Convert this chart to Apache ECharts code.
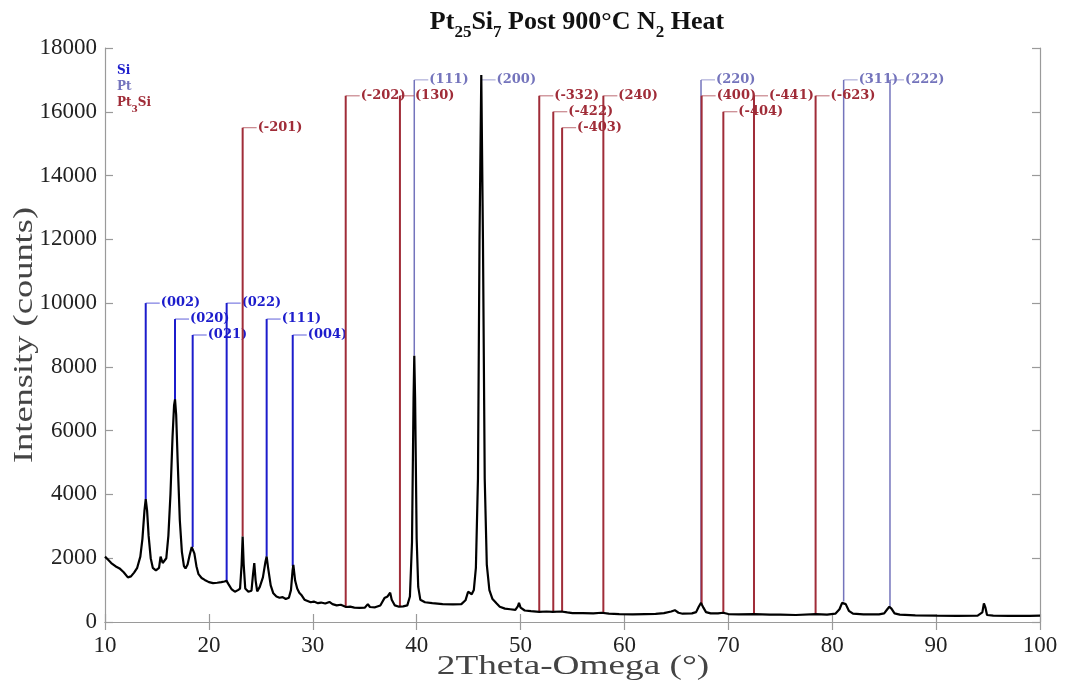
<!DOCTYPE html>
<html>
<head>
<meta charset="utf-8">
<title>Pt25Si7 Post 900°C N2 Heat</title>
<script src="https://cdn.jsdelivr.net/npm/echarts@6/dist/echarts.min.js"></script>
<style>
  html, body { margin: 0; padding: 0; background: #fff; }
  #chart { width: 1065px; height: 689px; }
</style>
</head>
<body>
<div id="chart"></div>
<script>
// XRD scan
const twoTheta = [
  10.0, 10.3, 10.6, 11.0, 11.4, 11.8, 12.2, 12.5, 12.8, 13.1, 13.4, 13.6, 13.8, 13.92, 14.05, 14.2, 14.4, 14.6, 14.9,
  15.2, 15.35, 15.45, 15.55, 15.7, 15.9, 16.1, 16.3, 16.5, 16.65, 16.74, 16.85, 17.0, 17.2, 17.4, 17.6, 17.75, 17.95,
  18.15, 18.35, 18.44, 18.6, 18.8, 19.0, 19.3, 19.6, 20.0, 20.4, 20.8, 21.2, 21.5, 21.7, 21.9, 22.2, 22.5, 22.8, 23.0,
  23.15, 23.25, 23.35, 23.5, 23.8, 24.1, 24.25, 24.37, 24.5, 24.65, 24.9, 25.2, 25.45, 25.56, 25.7, 25.95, 26.2, 26.5,
  26.8, 27.1, 27.4, 27.7, 27.9, 28.05, 28.13, 28.3, 28.5, 28.7, 28.9, 29.2, 29.5, 29.8, 30.1, 30.5, 30.8, 31.2, 31.6,
  31.9, 32.3, 32.7, 33.2, 33.6, 34.0, 34.5, 35.0, 35.3, 35.5, 36.0, 36.5, 36.9, 37.2, 37.45, 37.6, 37.9, 38.3, 38.7,
  39.1, 39.35, 39.55, 39.7, 39.77, 39.85, 40.0, 40.15, 40.35, 40.8, 41.5, 42.5, 43.5, 44.3, 44.7, 44.95, 45.1, 45.3,
  45.5, 45.7, 45.9, 46.05, 46.22, 46.38, 46.55, 46.75, 47.0, 47.3, 47.7, 48.0, 48.5, 49.0, 49.5, 49.75, 49.85, 50.0,
  50.4, 51.0, 51.8, 52.5, 53.1, 53.9, 54.5, 55.0, 56.0, 57.0, 57.8, 58.5, 59.5, 60.8, 62.0, 63.0, 63.8, 64.5, 64.85,
  65.2, 65.6, 66.5, 66.9, 67.15, 67.37, 67.6, 67.85, 68.3, 69.0, 69.5, 70.0, 71.0, 72.5, 74.0, 75.0, 76.5, 78.4, 79.5,
  80.3, 80.7, 80.95, 81.1, 81.3, 81.6, 82.0, 83.0, 84.5, 85.0, 85.3, 85.5, 85.7, 86.0, 86.5, 88.0, 90.0, 92.0, 94.0,
  94.45, 94.6, 94.75, 94.9, 95.5, 97.0, 99.0, 100.0
];
const counts = [
  2050, 1950, 1850, 1750, 1680, 1560, 1400, 1430, 1550, 1700, 2050, 2600, 3500, 3850, 3500, 2700, 2000, 1700, 1620,
  1700, 2050, 2100, 1850, 1800, 2000, 2700, 4000, 5800, 6800, 6980, 6500, 5000, 3200, 2200, 1750, 1680, 1800,
  2100, 2350, 2380, 2150, 1750, 1500, 1380, 1320, 1250, 1220, 1230, 1250, 1270, 1290, 1180, 1020, 950, 1000, 1050,
  1800, 2680, 1800, 1050, 950, 980, 1500, 1850, 1300, 960, 1100, 1400, 1900, 2050, 1700, 1150, 900, 800,
  760, 780, 720, 760, 1000, 1600, 1790, 1300, 1050, 920, 850, 700, 660, 620, 640, 590, 610, 580, 630,
  560, 520, 540, 470, 480, 450, 440, 450, 560, 470, 460, 520, 750, 800, 920, 700, 520, 480, 490,
  520, 800, 2500, 7000, 8350, 7000, 2600, 1100, 700, 620, 590, 560, 550, 560, 680, 950, 1000, 870,
  1000, 1700, 4500, 12000, 17150, 12000, 4500, 1800, 1000, 720, 580, 480, 420, 400, 380, 500, 600, 450,
  360, 340, 320, 330, 320, 330, 300, 280, 280, 270, 290, 260, 250, 240, 250, 255, 280, 330, 370,
  290, 260, 270, 310, 480, 600, 450, 310, 270, 270, 290, 250, 240, 250, 230, 230, 220, 250, 230,
  260, 400, 600, 660, 560, 350, 260, 240, 240, 270, 400, 480, 420, 270, 230, 210, 200, 195, 200,
  300, 580, 450, 220, 200, 195, 190, 200
];

// reference patterns: position, top of stick, where it meets the curve, label
const siPos = [13.92, 16.74, 18.44, 21.71, 25.56, 28.07];
const siTop = [10000, 9500, 9000, 10000, 9500, 9000];
const siBottom = [3850, 6950, 2350, 1280, 2050, 1750];
const siLabels = ['(002)', '(020)', '(021)', '(022)', '(111)', '(004)'];

const ptPos = [39.77, 46.25, 67.37, 81.1, 85.56];
const ptTop = [17000, 17000, 17000, 17000, 17000];
const ptBottom = [8350, 17000, 585, 640, 480];
const ptLabels = ['(111)', '(200)', '(220)', '(311)', '(222)'];

const pt3siPos = [23.25, 33.17, 38.39, 51.8, 53.15, 54.0, 57.97, 67.43, 69.52, 72.47, 78.4];
const pt3siTop = [15500, 16500, 16500, 16500, 16000, 15500, 16500, 16500, 16000, 16500, 16500];
const pt3siBottom = [2680, 470, 500, 320, 320, 310, 290, 560, 290, 250, 250];
const pt3siLabels = ['(-201)', '(-202)', '(130)', '(-332)', '(-422)', '(-403)', '(240)', '(400)', '(-404)', '(-441)', '(-623)'];

const xTicks = { min: 10, max: 100, interval: 10 };
const yTicks = { min: 0, max: 18000, interval: 2000 };

const SI_COLOR = '#1c1ccc';
const PT_COLOR = '#7474bc';
const PT3SI_COLOR = '#a02c38';
const SERIF = '"Liberation Serif", "Times New Roman", serif';
const LABEL_FONT = '"DejaVu Serif", serif';

function stickSeries(name, color, width, pos, top, bottom, labels) {
    return {
        name: name,
        type: 'custom',
        z: 1,
        data: pos.map((p, i) => [p, top[i], bottom[i]]),
        encode: { x: 0, y: [1, 2] },
        renderItem: function (params, api) {
            const i = params.dataIndex;
            const a = api.coord([api.value(0), api.value(1)]);
            const b = api.coord([api.value(0), api.value(2)]);
            return {
                type: 'group',
                children: [
                    { type: 'line', shape: { x1: a[0], y1: a[1], x2: b[0], y2: b[1] },
                      style: { stroke: color, lineWidth: width } },
                    { type: 'line', shape: { x1: a[0], y1: a[1], x2: a[0] + 14, y2: a[1] },
                      style: { stroke: color, lineWidth: 1, opacity: 0.7 } },
                    { type: 'text', x: a[0] + 15, y: a[1],
                      style: { text: labels[i], fill: color, fontSize: 13, fontWeight: 'bold',
                               fontFamily: LABEL_FONT, verticalAlign: 'middle', align: 'left' } }
                ]
            };
        }
    };
}

const chart = echarts.init(document.getElementById('chart'));

const axisLineStyle = { color: '#9a9a9a', width: 1.2 };

chart.setOption({
    animation: false,
    backgroundColor: '#fff',
    title: {
        text: '{b|Pt}{s|25}{b|Si}{s|7}{b| Post 900°C N}{s|2}{b| Heat}',
        left: 572,
        textAlign: 'center',
        top: 4,
        textStyle: {
            rich: {
                b: { fontFamily: SERIF, fontWeight: 'bold', fontSize: 26, color: '#111', lineHeight: 28, verticalAlign: 'top' },
                s: { fontFamily: SERIF, fontWeight: 'bold', fontSize: 17, color: '#111', lineHeight: 17, padding: [15, 0, 0, 0], verticalAlign: 'top' }
            }
        }
    },
    // axis titles, stretched like the original figure
    graphic: [
        { type: 'text', x: 25, y: 335, rotation: Math.PI / 2, scaleX: 1.35,
          style: { text: 'Intensity (counts)', fontFamily: SERIF, fontSize: 27, fill: '#444', align: 'center', verticalAlign: 'middle' } },
        { type: 'text', x: 573, y: 667, scaleX: 1.38,
          style: { text: '2Theta-Omega (°)', fontFamily: SERIF, fontSize: 27, fill: '#444', align: 'center', verticalAlign: 'middle' } }
    ],
    legend: {
        left: 112,
        top: 60,
        orient: 'vertical',
        icon: 'none',
        itemWidth: 0,
        itemHeight: 10,
        itemGap: 4,
        selectedMode: false,
        formatter: function (name) {
            return name === 'Pt3Si' ? '{a|Pt}{s|3}{a|Si}' : name;
        },
        textStyle: { fontFamily: LABEL_FONT, fontWeight: 'bold', fontSize: 12, padding: [0, 0, 0, -5] },
        data: [
            { name: 'Si', textStyle: { color: SI_COLOR } },
            { name: 'Pt', textStyle: { color: PT_COLOR } },
            { name: 'Pt3Si', textStyle: { color: PT3SI_COLOR,
                rich: {
                    a: { color: PT3SI_COLOR, fontFamily: LABEL_FONT, fontWeight: 'bold', fontSize: 12, lineHeight: 14, verticalAlign: 'top' },
                    s: { color: PT3SI_COLOR, fontFamily: LABEL_FONT, fontWeight: 'bold', fontSize: 9, lineHeight: 9, padding: [8, 0, 0, 0], verticalAlign: 'top' }
                } } }
        ]
    },
    grid: { left: 105, right: 25, top: 48, bottom: 67, containLabel: false, outerBoundsMode: 'none' },
    xAxis: [
        {
            type: 'value', min: xTicks.min, max: xTicks.max, interval: xTicks.interval,
            axisLine: { show: true, lineStyle: axisLineStyle },
            axisTick: { show: true, inside: true, length: 8, lineStyle: axisLineStyle },
            axisLabel: { fontFamily: SERIF, fontSize: 23, color: '#222', margin: 12 },
            splitLine: { show: false }
        },
        {
            type: 'value', position: 'top', min: xTicks.min, max: xTicks.max, interval: xTicks.interval,
            axisLine: { show: true, lineStyle: axisLineStyle },
            axisTick: { show: true, inside: true, length: 8, lineStyle: axisLineStyle },
            axisLabel: { show: false },
            splitLine: { show: false }
        }
    ],
    yAxis: [
        {
            type: 'value', min: yTicks.min, max: yTicks.max, interval: yTicks.interval,
            axisLine: { show: true, lineStyle: axisLineStyle },
            axisTick: { show: true, inside: true, length: 8, lineStyle: axisLineStyle },
            axisLabel: { fontFamily: SERIF, fontSize: 23, color: '#222', margin: 8, formatter: v => String(v) },
            splitLine: { show: false }
        },
        {
            type: 'value', position: 'right', min: yTicks.min, max: yTicks.max, interval: yTicks.interval,
            axisLine: { show: true, lineStyle: axisLineStyle },
            axisTick: { show: true, inside: true, length: 8, lineStyle: axisLineStyle },
            axisLabel: { show: false },
            splitLine: { show: false }
        }
    ],
    series: [
        stickSeries('Si', SI_COLOR, 2, siPos, siTop, siBottom, siLabels),
        stickSeries('Pt', PT_COLOR, 1.5, ptPos, ptTop, ptBottom, ptLabels),
        stickSeries('Pt3Si', PT3SI_COLOR, 2, pt3siPos, pt3siTop, pt3siBottom, pt3siLabels),
        {
            name: 'scan',
            type: 'line',
            z: 3,
            showSymbol: false,
            symbol: 'none',
            lineStyle: { color: '#000', width: 2.2 },
            data: twoTheta.map((t, i) => [t, counts[i]])
        }
    ]
});

window.addEventListener('resize', () => chart.resize());
</script>
</body>
</html>
